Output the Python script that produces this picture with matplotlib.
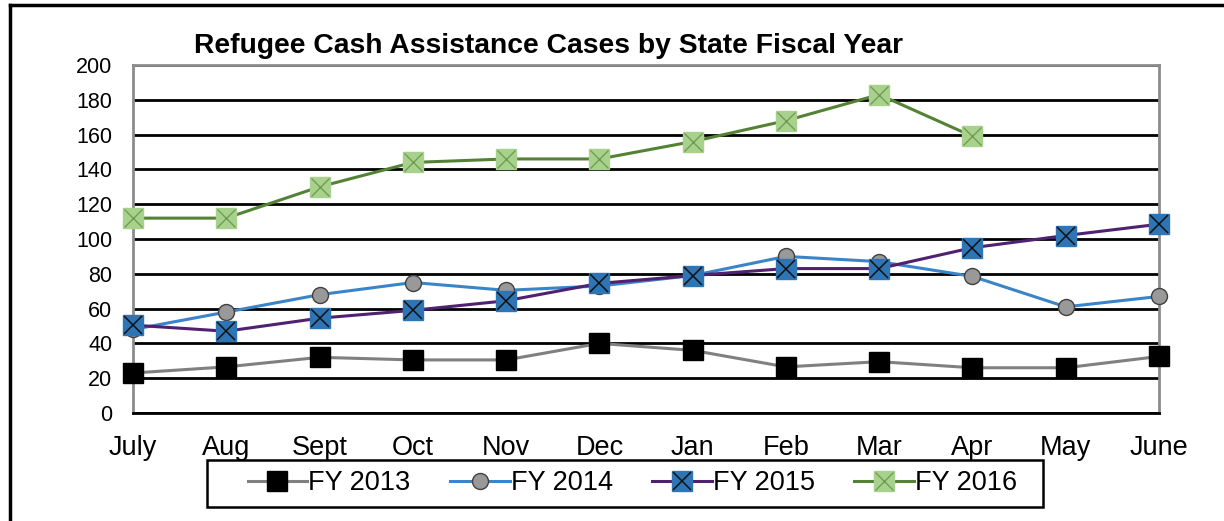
import numpy as np
import matplotlib
matplotlib.use('Agg')
import matplotlib.pyplot as plt
from matplotlib.lines import Line2D
from matplotlib.patches import Rectangle

months = ['July', 'Aug', 'Sept', 'Oct', 'Nov', 'Dec', 'Jan', 'Feb', 'Mar', 'Apr', 'May', 'June']
fy2013 = [23, 26.5, 32, 30.5, 30.5, 40, 36, 26.5, 29.5, 26, 26, 32.5]
fy2014 = [48, 58, 68, 75, 70.5, 73, 79, 90, 87, 78.5, 61, 67]
fy2015 = [50.5, 47, 54.5, 59, 64.5, 74.5, 79, 83, 83, 95, 102, 108.5]
fy2016 = [112, 112, 130, 144, 146, 146, 156, 168, 183, 159]

plt.rcParams['font.family'] = ['Liberation Sans', 'DejaVu Sans']

W, H = 1224, 521
fig = plt.figure(figsize=(W / 100, H / 100), dpi=100)
ax = fig.add_axes([133 / W, 1 - 413 / H, (1159 - 133) / W, (413 - 65) / H])

x = np.arange(len(months))

l13, = ax.plot(x, fy2013, color='#808080', lw=2.2, marker='s', ms=14,
               mfc='black', mec='black', zorder=3, clip_on=False)
l14, = ax.plot(x, fy2014, color='#3a84c9', lw=2.2, marker='o', ms=11.5,
               mfc='#999999', mec='#404040', mew=1.0, zorder=4, clip_on=False)
l15, = ax.plot(x, fy2015, color='#4f2170', lw=2.2, marker='s', ms=14,
               mfc='#2e75b6', mec='#2e75b6', zorder=5, clip_on=False)
x15, = ax.plot(x, fy2015, ls='none', marker='x', ms=13.5, mec='#111111', mew=1.1,
               zorder=5.1, clip_on=False)
x16_idx = np.arange(len(fy2016))
l16, = ax.plot(x16_idx, fy2016, color='#548235', lw=2.2, marker='s', ms=14,
               mfc='#a9d18e', mec='#a9d18e', zorder=6, clip_on=False)
x16, = ax.plot(x16_idx, fy2016, ls='none', marker='x', ms=13.5, mec='#6e9e50', mew=1.0,
               zorder=6.1, clip_on=False)

ax.set_xlim(0, 11)
ax.set_ylim(0, 200)
ax.set_yticks(np.arange(0, 201, 20))
ax.set_xticks(x)
ax.set_xticklabels(months)
ax.tick_params(axis='both', length=0, colors='black')
ax.tick_params(axis='y', labelsize=15.5, pad=15)
ax.tick_params(axis='x', labelsize=19.5, pad=16)
ax.yaxis.grid(True, color='black', lw=2)
ax.set_axisbelow(True)
for s in ['top', 'left', 'right']:
    ax.spines[s].set_color('#8c8c8c')
    ax.spines[s].set_linewidth(2)
ax.spines['bottom'].set_color('black')
ax.spines['bottom'].set_linewidth(2)

fig.text(0.4485, 0.911, 'Refugee Cash Assistance Cases by State Fiscal Year',
         ha='center', va='center', fontsize=20.3, fontweight='bold')

leg = fig.legend([l13, l14, (l15, x15), (l16, x16)],
                 ['FY 2013', 'FY 2014', 'FY 2015', 'FY 2016'],
                 loc='center', bbox_to_anchor=(632.5 / W, 1 - 483.5 / H), ncol=4,
                 fontsize=19.5, frameon=False, handlelength=2.2,
                 handletextpad=0.05, columnspacing=1.45, borderpad=0.3)

# legend box
fig.add_artist(Rectangle((207 / W, 1 - 507 / H), (1043 - 207) / W, 47 / H,
                         transform=fig.transFigure, fill=False, ec='black', lw=1.8))

# outer frame (top and left edges visible)
fig.add_artist(Line2D([10 / W, 1], [1 - 5 / H, 1 - 5 / H], transform=fig.transFigure, color='black', lw=2.5))
fig.add_artist(Line2D([10 / W, 10 / W], [0, 1 - 5 / H], transform=fig.transFigure, color='black', lw=2.5))

fig.savefig('out.png', dpi=100)
